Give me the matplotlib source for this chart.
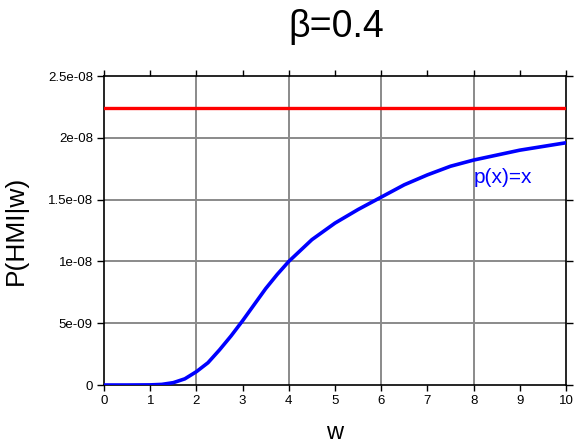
import matplotlib
matplotlib.use("Agg")
import matplotlib.pyplot as plt
import numpy as np

plt.rcParams['font.family'] = ['Liberation Sans', 'DejaVu Sans']

# Data
w = [0, 0.5, 1.0, 1.25, 1.5, 1.75, 2.0, 2.25, 2.5, 2.75, 3.0, 3.25, 3.5, 3.75, 4.0, 4.5,
     5.0, 5.5, 6.0, 6.5, 7.0, 7.5, 8.0, 8.5, 9.0, 9.5, 10.0]
p_hmi = [0, 0, 0.01e-9, 0.05e-9, 0.19e-9, 0.5e-9, 1.08e-9, 1.8e-9, 2.84e-9, 3.97e-9,
         5.2e-9, 6.5e-9, 7.8e-9, 8.95e-9, 1.0e-8, 1.176e-8, 1.31e-8, 1.42e-8, 1.52e-8, 1.62e-8,
         1.70e-8, 1.77e-8, 1.82e-8, 1.86e-8, 1.90e-8, 1.93e-8, 1.96e-8]
red_level = 2.245e-8

title = "β=0.4"
curve_label = "p(x)=x"
xticks = list(range(0, 11))
yticks = [0, 5e-9, 1e-8, 1.5e-8, 2e-8, 2.5e-8]
ytick_labels = ["0", "5e-09", "1e-08", "1.5e-08", "2e-08", "2.5e-08"]

fig = plt.figure(figsize=(5.74, 4.43), dpi=100)
ax = fig.add_axes([0.1812, 0.1309, 0.8048, 0.6975])

ax.set_xlim(0, 10)
ax.set_ylim(0, 2.5e-8)

# grid
for yv in yticks[1:-1]:
    ax.axhline(yv, color='#8a8a8a', lw=1.4, zorder=1)
for xv in [2, 4, 6, 8]:
    ax.axvline(xv, color='#8a8a8a', lw=1.4, zorder=1)

ax.axhline(red_level, color='#ff0000', lw=2.4, zorder=3)
ax.plot(w, p_hmi, color='#0000ff', lw=2.6, zorder=3, solid_joinstyle='round')

ax.text(8.0, 1.675e-8, curve_label, color='#0000ff', fontsize=15, va='center', ha='left')

ax.set_xticks(xticks)
ax.set_xticklabels([str(t) for t in xticks])
ax.set_yticks(yticks)
ax.set_yticklabels(ytick_labels)
ax.tick_params(axis='both', direction='out', length=4, width=1, labelsize=9.5, colors='black',
               top=True, right=True, pad=3)
ax.tick_params(axis='y', length=5)

for s in ax.spines.values():
    s.set_linewidth(1.2)
    s.set_color('black')

ax.set_xlabel("w", fontsize=17, labelpad=11)
ax.set_ylabel("P(HMI|w)", fontsize=19, labelpad=14)
fig.text(0.586, 0.938, title, fontsize=27, ha='center', va='center')

fig.savefig("out.png", dpi=100)
